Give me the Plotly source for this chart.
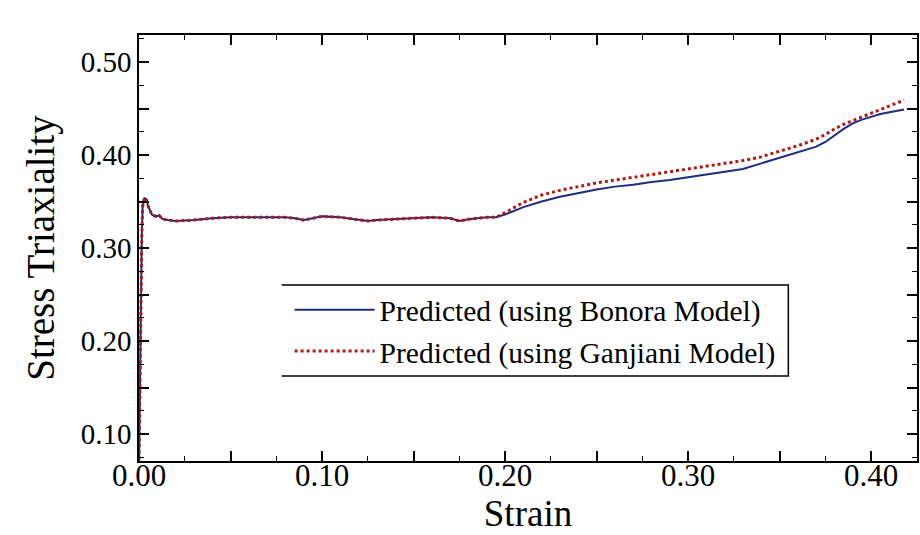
import plotly.graph_objects as go

# Strain values (shared by both model predictions)
strain = [0.0, 0.0005, 0.001, 0.0015, 0.002, 0.003, 0.004, 0.005, 0.007, 0.009,
          0.011, 0.013, 0.016, 0.02, 0.03, 0.04, 0.05, 0.06, 0.07, 0.08,
          0.085, 0.09, 0.095, 0.10, 0.11, 0.12, 0.125, 0.13, 0.14, 0.15,
          0.16, 0.17, 0.175, 0.18, 0.19, 0.195, 0.20, 0.21, 0.22, 0.23,
          0.24, 0.25, 0.26, 0.27, 0.28, 0.29, 0.30, 0.31, 0.32, 0.33,
          0.34, 0.35, 0.36, 0.37, 0.375, 0.38, 0.385, 0.39, 0.395, 0.40,
          0.405, 0.41, 0.415, 0.418]

# Stress triaxiality predicted with the Bonora damage model
triax_bonora = [0.06, 0.15, 0.25, 0.31, 0.345, 0.354, 0.352, 0.345, 0.336, 0.334,
                0.335, 0.331, 0.330, 0.329, 0.330, 0.332, 0.333, 0.333, 0.333, 0.333,
                0.332, 0.330, 0.332, 0.334, 0.333, 0.330, 0.329, 0.330, 0.331, 0.332,
                0.333, 0.332, 0.329, 0.331, 0.333, 0.333, 0.336, 0.344, 0.350, 0.355,
                0.359, 0.363, 0.366, 0.368, 0.371, 0.373, 0.376, 0.379, 0.382, 0.385,
                0.391, 0.397, 0.403, 0.409, 0.414, 0.421, 0.428, 0.434, 0.438, 0.441,
                0.444, 0.446, 0.448, 0.449]

# Stress triaxiality predicted with the Ganjiani damage model
triax_ganjiani = [0.06, 0.15, 0.25, 0.31, 0.345, 0.354, 0.352, 0.345, 0.336, 0.334,
                  0.335, 0.331, 0.330, 0.329, 0.330, 0.332, 0.333, 0.333, 0.333, 0.333,
                  0.332, 0.330, 0.332, 0.334, 0.333, 0.330, 0.329, 0.330, 0.331, 0.332,
                  0.333, 0.332, 0.329, 0.331, 0.333, 0.333, 0.338, 0.349, 0.357, 0.362,
                  0.366, 0.370, 0.373, 0.376, 0.379, 0.382, 0.385, 0.388, 0.391, 0.394,
                  0.398, 0.404, 0.410, 0.417, 0.422, 0.428, 0.433, 0.437, 0.441, 0.445,
                  0.449, 0.453, 0.457, 0.459]

x_tickvals = [0.00, 0.05, 0.10, 0.15, 0.20, 0.25, 0.30, 0.35, 0.40]
x_ticktext = ["0.00", "", "0.10", "", "0.20", "", "0.30", "", "0.40"]
y_tickvals = [0.10, 0.15, 0.20, 0.25, 0.30, 0.35, 0.40, 0.45, 0.50]
y_ticktext = ["0.10", "", "0.20", "", "0.30", "", "0.40", "", "0.50"]

FONT = "Liberation Serif"

fig = go.Figure()
fig.add_trace(go.Scatter(
    x=strain, y=triax_bonora, mode="lines",
    name="Predicted (using Bonora Model)",
    line=dict(color="#1f2a80", width=2),
))
fig.add_trace(go.Scatter(
    x=strain, y=triax_ganjiani, mode="lines",
    name="Predicted (using Ganjiani Model)",
    line=dict(color="#b01818", width=3, dash="dot"),
))

# plot area geometry (px) used to place the legend frame
L, R, T, B = 139, 1, 35, 74
W, H = 920 - L - R, 535 - T - B

def px(x):
    return (x - L) / W

def py(y):
    return (535 - B - y) / H

axis_common = dict(
    showline=True, linecolor="black", linewidth=1.5, mirror="ticks",
    ticks="inside", ticklen=10, tickwidth=1.5, tickcolor="black",
    showgrid=False, zeroline=False,
    minor=dict(ticks="inside", ticklen=5, tickwidth=1.2, tickcolor="black", dtick=0.025),
)

fig.update_layout(
    width=920, height=535,
    margin=dict(l=L, r=R, t=T, b=B),
    paper_bgcolor="white", plot_bgcolor="white",
    font=dict(family=FONT, color="black"),
    xaxis=dict(
        range=[0, W / 1835], tickmode="array",
        tickvals=x_tickvals, ticktext=x_ticktext,
        tickfont=dict(family=FONT, size=31, color="black"),
        ticklabelstandoff=-14,
        title=dict(text="Strain", font=dict(family=FONT, size=37), standoff=4),
        **axis_common,
    ),
    yaxis=dict(
        range=[0.50 - (535 - B - 62) / 930, 0.50 + (62 - T) / 930],
        tickmode="array", tickvals=y_tickvals, ticktext=y_ticktext,
        tickfont=dict(family=FONT, size=29, color="black"),
        title=dict(text="Stress Triaxiality", font=dict(family=FONT, size=39), standoff=14),
        **axis_common,
    ),
    legend=dict(
        x=px(290), y=py(284), xanchor="left", yanchor="top",
        bgcolor="rgba(255,255,255,0)", borderwidth=0,
        font=dict(family=FONT, size=29.5, color="black"),
        itemwidth=80,
    ),
    showlegend=True,
    shapes=[dict(
        type="path", xref="paper", yref="paper",
        path=f"M{px(282)},{py(285)} L{px(790)},{py(285)} L{px(790)},{py(376)} L{px(282)},{py(376)}",
        line=dict(color="black", width=1.5),
    )],
)

fig.write_html("out.html")
